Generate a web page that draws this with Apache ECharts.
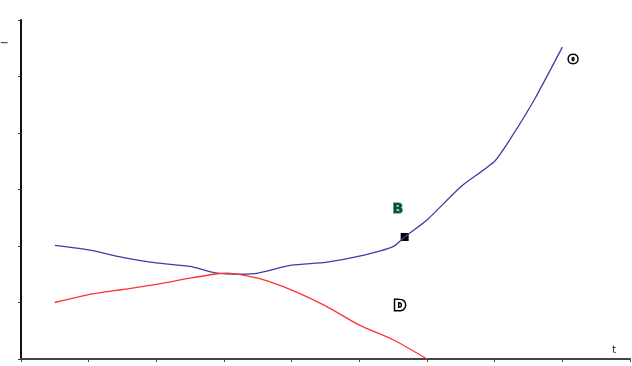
<!DOCTYPE html>
<html>
<head>
<meta charset="utf-8" />
<title>curves</title>
<script src="https://cdn.jsdelivr.net/npm/echarts@6/dist/echarts.min.js"></script>
<style>
  html, body { margin: 0; padding: 0; background: #fff; }
</style>
</head>
<body>
<div id="main" style="width: 632px;height:366px;"></div>
<script>
    // values (x in tick units, y in tick units)
    var blueX = [0.5, 1.0, 1.5, 2.0, 2.5, 2.85, 3.25, 3.5, 4.0, 4.5, 5.0, 5.5, 5.67, 6.0, 6.5, 7.0, 7.25, 7.6, 8.0];
    var blueY = [2.01, 1.93, 1.80, 1.70, 1.64, 1.53, 1.50, 1.52, 1.66, 1.71, 1.82, 1.99, 2.16, 2.46, 3.05, 3.50, 3.93, 4.62, 5.52];
    var redX = [0.5, 1.0, 1.5, 2.0, 2.5, 2.85, 3.05, 3.5, 4.0, 4.5, 5.0, 5.5, 6.0];
    var redY = [1.0, 1.14, 1.23, 1.32, 1.43, 1.50, 1.52, 1.43, 1.22, 0.94, 0.6, 0.34, 0.0];
    var pointB = [5.67, 2.16];
    var labels = [
        { text: 'B', coord: [5.57, 2.65] },
        { text: 'D', coord: [5.60, 0.94] },
        { text: 'o', coord: [8.16, 5.30] }
    ];

    function pairs(xs, ys) {
        return xs.map(function (x, i) { return [x, ys[i]]; });
    }

    var myChart = echarts.init(document.getElementById('main'));

    var option = {
        animation: false,
        grid: { left: 21, right: 2, top: 20, bottom: 7 },
        xAxis: {
            type: 'value',
            min: 0, max: 9, interval: 1,
            name: 't',
            nameLocation: 'end',
            nameGap: -18,
            nameTextStyle: { color: '#333', fontSize: 11, verticalAlign: 'bottom', padding: [0, 0, 3, 0], fontFamily: 'DejaVu Sans' },
            axisLine: { lineStyle: { color: '#444', width: 2 } },
            axisTick: { length: 3, lineStyle: { color: '#444' } },
            axisLabel: { show: false },
            splitLine: { show: false }
        },
        yAxis: {
            type: 'value',
            min: 0, max: 6, interval: 1,
            axisLine: { show: true, lineStyle: { color: '#111', width: 2 } },
            axisTick: { show: true, length: 3, lineStyle: { color: '#333' } },
            axisLabel: { show: false },
            splitLine: { show: false }
        },
        graphic: [{
            type: 'text', left: 0, top: 34,
            style: { text: '–', fill: '#555', fontSize: 17, fontFamily: 'DejaVu Sans' }
        }],
        series: [{
            name: 'blue',
            type: 'line',
            showSymbol: false,
            smooth: 0.2,
            lineStyle: { color: '#3d3da8', width: 1.3 },
            data: pairs(blueX, blueY),
            markPoint: {
                symbol: 'circle',
                symbolSize: 1,
                itemStyle: { color: 'transparent' },
                label: {
                    show: true,
                    position: 'inside',
                    formatter: function (p) { return p.name; },
                    fontFamily: 'DejaVu Sans',
                    fontWeight: 'bold',
                    fontSize: 14
                },
                data: labels.map(function (l, i) {
                    var st = i === 0
                        ? { color: '#0f4a33', textBorderColor: '#5cb892', textBorderWidth: 1.5 }
                        : { color: '#fff', textBorderColor: '#000', textBorderWidth: 3 };
                    return { name: l.text, coord: l.coord, label: st };
                })
            }
        }, {
            name: 'red',
            type: 'line',
            showSymbol: false,
            smooth: 0.2,
            lineStyle: { color: '#ff3333', width: 1.3 },
            data: pairs(redX, redY)
        }, {
            name: 'point',
            type: 'scatter',
            symbol: 'rect',
            symbolSize: 8,
            itemStyle: { color: '#000', opacity: 1 },
            data: [pointB]
        }]
    };

    myChart.setOption(option);
</script>
</body>
</html>
